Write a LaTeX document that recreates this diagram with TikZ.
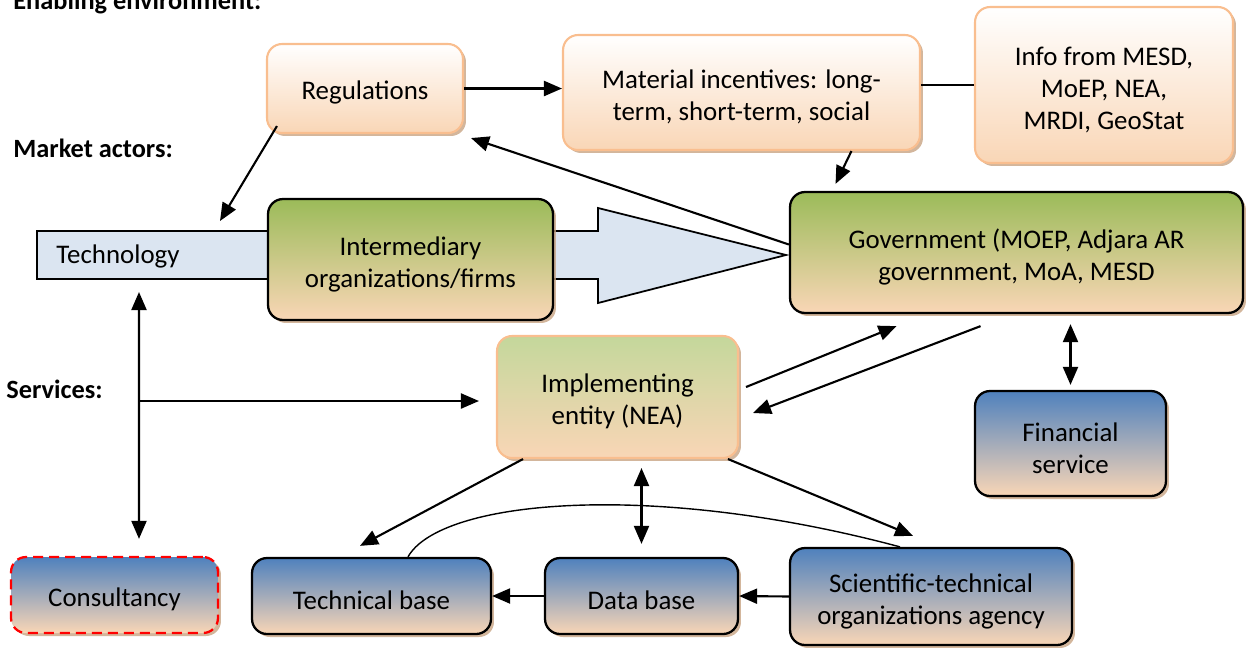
\documentclass[tikz,border=0pt]{standalone}
\usepackage{fontspec}
\setmainfont{Carlito}
\usetikzlibrary{arrows.meta,shadows}
\definecolor{peach}{HTML}{F9D6B6}
\definecolor{leaf}{HTML}{9BBB59}
\definecolor{paleleaf}{HTML}{C4D79B}
\definecolor{sky}{HTML}{4F81BD}
\definecolor{apricot}{HTML}{F9BE8F}
\definecolor{techblue}{HTML}{DBE5F1}
\definecolor{shade}{HTML}{C8A483}

\begin{document}
\begin{tikzpicture}[x=0.02cm,y=-0.02cm,
  box/.style={rounded corners=0.3cm,align=center,inner sep=0pt,font=\fontsize{15.3}{18.2}\selectfont,
    drop shadow={shadow xshift=0.06cm,shadow yshift=-0.06cm,fill=shade,opacity=0.8}},
  oneline/.style={text height=0.55cm},
  twolines/.style={text height=1.2cm},
  threelines/.style={text height=1.84cm},
  env/.style={box,draw=apricot,line width=1.2pt,top color=white,bottom color=peach},
  actor/.style={box,draw=black,line width=1.3pt,top color=leaf,bottom color=peach},
  service/.style={box,draw=black,line width=1.3pt,top color=sky,bottom color=peach},
  head/.style={anchor=base west,inner sep=0pt,font=\fontsize{15}{18}\selectfont\bfseries},
  link/.style={-{Triangle[length=0.36cm,width=0.3cm]},line width=1.2pt},
  both/.style={{Triangle[length=0.36cm,width=0.3cm]}-{Triangle[length=0.36cm,width=0.3cm]},line width=1.2pt}]
\useasboundingbox (0,0) rectangle (1248,647);

\node[head] (envhead) at (13,9) {Enabling environment:};
\node[head] (markethead) at (13,157) {Market actors:};
\node[head] (servhead) at (6,398) {Services:};

\draw[line width=1pt,fill=techblue] (37,231) -- (598,231) -- (598,208) -- (786,255) -- (598,303) -- (598,279) -- (37,279) -- cycle;
\node[font=\fontsize{15.3}{18}\selectfont] (tech) at (118,256) {Technology};
\coordinate (techtop) at (220,221);
\coordinate (techbot) at (139,292);
\coordinate (svc) at (139,401);

\node[env,oneline,minimum width=3.92cm,minimum height=1.78cm] (reg) at (365,88.5) {Regulations};
\node[env,twolines,minimum width=7.14cm,minimum height=2.3cm] (mat) at (741.5,92.5) {Material incentives: long-\\term, short-term, social};
\node[env,threelines,minimum width=5.16cm,minimum height=3.12cm] (info) at (1104,85) {Info from MESD,\\MoEP, NEA,\\MRDI, GeoStat};
\node[actor,twolines,minimum width=5.7cm,minimum height=2.42cm] (inter) at (410.5,259.5) {Intermediary\\organizations/firms};
\node[actor,twolines,minimum width=9.06cm,minimum height=2.42cm] (gov) at (1016.5,252.5) {Government (MOEP, Adjara AR\\government, MoA, MESD};
\node[env,twolines,draw=apricot,top color=paleleaf,minimum width=4.82cm,minimum height=2.44cm] (impl) at (617.5,397) {Implementing\\entity (NEA)};
\node[service,twolines,minimum width=3.82cm,minimum height=2.1cm] (fin) at (1070.5,443.5) {Financial\\service};
\node[service,oneline,draw=red,dash pattern=on 0.2cm off 0.12cm,minimum width=4.14cm,minimum height=1.52cm] (cons) at (114.5,595) {Consultancy};
\node[service,oneline,minimum width=4.78cm,minimum height=1.52cm] (techbase) at (371.5,596) {Technical base};
\node[service,oneline,minimum width=3.86cm,minimum height=1.52cm] (data) at (641.5,596) {Data base};
\node[service,twolines,minimum width=5.64cm,minimum height=1.94cm] (sci) at (931,596.5) {Scientific-technical\\organizations agency};

\draw[link] (reg.east) -- (reg.east -| mat.west);
\draw[line width=1.1pt] (mat.east |- info.west) -- (info.west);
\draw[link] ([shift={(0.22cm,0.16cm)}]reg.south west) -- (techtop);
\draw[link] ([yshift=0.16cm]gov.west) -- ([shift={(0.14cm,-0.08cm)}]reg.south east);
\draw[link] ([xshift=2.2cm]mat.south) -- ([shift={(-3.62cm,0.14cm)}]gov.north);
\draw[both] (techbot) -- ([shift={(0.49cm,0.34cm)}]cons.north);
\draw[link] (svc) -- ([xshift=-0.34cm]svc -| impl.west);
\draw[link] ([shift={(0.14cm,0.2cm)}]impl.east) -- ([shift={(-2.4cm,-0.24cm)}]gov.south);
\draw[link] ([shift={(-0.72cm,-0.24cm)}]gov.south) -- ([shift={(0.28cm,-0.32cm)}]impl.east);
\draw[both] ([yshift=-0.2cm]gov.south -| fin.north) -- ([yshift=0.1cm]fin.north);
\draw[link] ([xshift=-1.89cm]impl.south) -- ([shift={(-0.23cm,0.22cm)}]techbase.north);
\draw[link] ([xshift=2.21cm]impl.south) -- ([shift={(-0.36cm,0.22cm)}]sci.north);
\draw[both] ([yshift=-0.18cm]impl.south -| data.north) -- ([yshift=0.26cm]data.north);
\draw[link] (sci.west) -- (data.east);
\draw[link] (data.west) -- (techbase.east);
\draw[line width=0.8pt] ([xshift=0.73cm]techbase.north) .. controls (440,500) and (650,480) .. ([xshift=-0.62cm]sci.north);
\end{tikzpicture}
\end{document}
